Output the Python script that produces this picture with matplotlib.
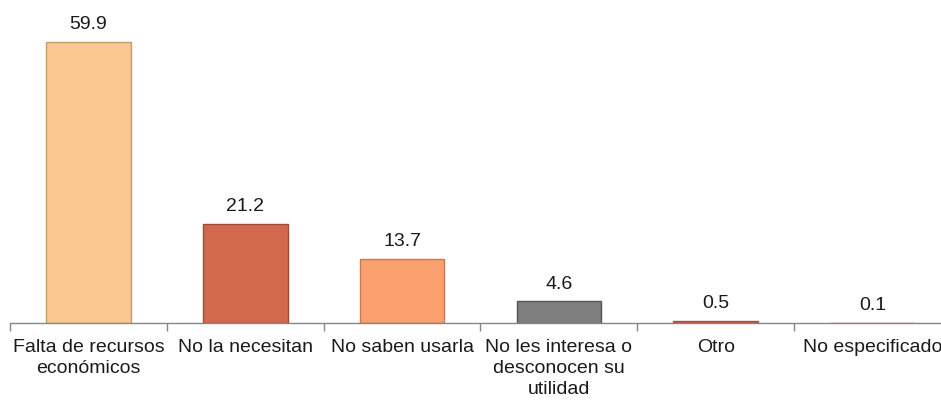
import numpy as np
import matplotlib.pyplot as plt

# data
categories = ['Falta de recursos\neconómicos', 'No la necesitan', 'No saben usarla',
              'No les interesa o\ndesconocen su\nutilidad', 'Otro', 'No especificado']
values = [59.9, 21.2, 13.7, 4.6, 0.5, 0.1]
colors = ['#FCC892', '#D2694F', '#F9A06E', '#7F7F7F', '#D2583F', '#E07A5F']
edges = ['#C89A68', '#A04A35', '#C67A50', '#555555', '#B04A35', '#C06050']

plt.rcParams['font.family'] = ['Liberation Sans', 'DejaVu Sans']

fig = plt.figure(figsize=(9.41, 4.02), dpi=100)
# axis runs a bit past the right edge, so the last label gets clipped like the original
ax = fig.add_axes([10 / 941, 78 / 402, 941 / 941, 294 / 402])

x = np.arange(len(values))
bars = ax.bar(x, values, width=0.54, color=colors, edgecolor=edges, linewidth=1.0)

for xi, v in zip(x, values):
    ax.annotate(f'{v:.1f}', (xi, v), xytext=(0, 7), textcoords='offset points',
                ha='center', va='bottom', fontsize=14, color='#1a1a1a')

ax.set_xlim(-0.5, len(values) - 0.5)
ax.set_ylim(0, 62.7)
ax.set_yticks([])
for s in ['top', 'right', 'left']:
    ax.spines[s].set_visible(False)
ax.spines['bottom'].set_color('#868686')
ax.spines['bottom'].set_linewidth(1.0)

# ticks at the category borders, labels in the middle
ax.set_xticks(np.arange(len(values) + 1) - 0.5)
ax.set_xticklabels([])
ax.tick_params(axis='x', direction='out', length=6, color='#868686', width=1.0)
ax.set_xticks(x, minor=True)
ax.set_xticklabels(categories, minor=True, fontsize=14, color='#1a1a1a', linespacing=1.3)
ax.tick_params(axis='x', which='minor', length=0, pad=11)

fig.savefig('out.png', dpi=100)
